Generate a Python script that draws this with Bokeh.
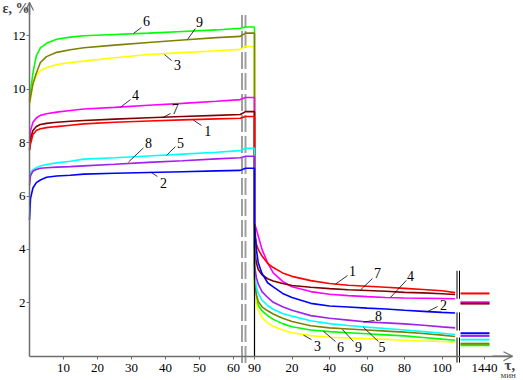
from bokeh.plotting import figure
from bokeh.models import Range1d, LinearAxis, FixedTicker, Arrow, OpenHead, Label
from bokeh.embed import file_html
from bokeh.resources import INLINE
from bokeh.core.properties import value

# ---------------- data ----------------
# loading phase, tau in minutes
tau_load = [0, 0.3, 1, 2, 3.2, 5, 8, 12, 16, 25, 35, 45, 55, 62]
load_1 = [7.7, 7.95, 8.3, 8.45, 8.52, 8.56, 8.6, 8.65, 8.7, 8.76, 8.81, 8.85, 8.89, 8.91]
load_2 = [5.1, 5.9, 6.3, 6.5, 6.6, 6.7, 6.75, 6.78, 6.82, 6.85, 6.88, 6.91, 6.94, 6.96]
load_3 = [9.4, 9.6, 10.2, 10.5, 10.7, 10.8, 10.92, 11.0, 11.05, 11.18, 11.3, 11.37, 11.44, 11.49]
load_4 = [8.0, 8.45, 8.75, 8.92, 9.02, 9.08, 9.14, 9.2, 9.26, 9.32, 9.4, 9.47, 9.55, 9.61]
load_5 = [6.5, 6.88, 6.98, 7.06, 7.12, 7.18, 7.24, 7.3, 7.38, 7.43, 7.5, 7.57, 7.64, 7.7]
load_6 = [9.6, 9.9, 10.6, 11.25, 11.55, 11.72, 11.87, 11.95, 12.0, 12.05, 12.1, 12.16, 12.22, 12.28]
load_7 = [7.75, 8.14, 8.45, 8.6, 8.68, 8.72, 8.76, 8.8, 8.83, 8.88, 8.93, 8.98, 9.02, 9.05]
load_8 = [6.4, 6.75, 6.93, 6.99, 7.04, 7.06, 7.08, 7.1, 7.13, 7.19, 7.26, 7.32, 7.39, 7.43]
load_9 = [9.5, 9.7, 10.2, 10.6, 11.0, 11.22, 11.38, 11.48, 11.55, 11.65, 11.75, 11.84, 11.93, 11.98]

# strain at the end of loading (tau = 90), series 1..9
end_load = [8.98, 7.04, 11.6, 9.69, 7.79, 12.33, 9.16, 7.49, 12.1]

# unloading phase, minutes after unloading
t_unload = [0, 1, 2, 4, 7, 10, 15, 20, 30, 40, 50, 60, 70, 80, 90, 100, 107]
unload_1 = [4.6, 4.2, 4.0, 3.75, 3.48, 3.32, 3.12, 2.99, 2.83, 2.72, 2.66, 2.62, 2.58, 2.54, 2.5, 2.45, 2.38]
unload_2 = [5.0, 4.0, 3.5, 3.1, 2.75, 2.6, 2.35, 2.2, 1.98, 1.88, 1.84, 1.8, 1.77, 1.72, 1.68, 1.64, 1.62]
unload_3 = [2.5, 1.95, 1.72, 1.45, 1.25, 1.12, 0.98, 0.88, 0.77, 0.71, 0.68, 0.66, 0.63, 0.6, 0.57, 0.55, 0.53]
unload_4 = [5.0, 4.75, 4.5, 4.0, 3.5, 3.12, 2.8, 2.6, 2.42, 2.32, 2.27, 2.23, 2.2, 2.18, 2.17, 2.16, 2.15]
unload_5 = [3.1, 2.6, 2.35, 2.1, 1.9, 1.76, 1.6, 1.5, 1.33, 1.22, 1.15, 1.09, 1.04, 0.98, 0.92, 0.86, 0.81]
unload_6 = [2.7, 2.15, 1.9, 1.7, 1.52, 1.38, 1.22, 1.1, 0.98, 0.92, 0.88, 0.84, 0.8, 0.76, 0.7, 0.64, 0.6]
unload_7 = [4.0, 3.5, 3.25, 3.05, 2.9, 2.82, 2.72, 2.65, 2.58, 2.53, 2.49, 2.46, 2.43, 2.39, 2.37, 2.34, 2.31]
unload_8 = [3.4, 2.95, 2.7, 2.42, 2.2, 2.02, 1.85, 1.72, 1.52, 1.42, 1.35, 1.28, 1.25, 1.21, 1.16, 1.1, 1.06]
unload_9 = [2.9, 2.3, 2.05, 1.85, 1.7, 1.58, 1.42, 1.3, 1.14, 1.06, 1.02, 0.98, 0.94, 0.9, 0.85, 0.79, 0.74]

# value at 1440 min, series 1..9
tau_day = [1416, 1445]
day_values = [2.35, 0.86, 0.43, 2.02, 0.62, 0.41, 1.97, 0.76, 0.47]

series_names = ["1", "2", "3", "4", "5", "6", "7", "8", "9"]
colors = ["#FF0000", "#0000FF", "#FFFF00", "#FF00FF", "#00FFFF",
          "#00FF00", "#800000", "#A020F0", "#808000"]
draw_order = [6, 3, 9, 4, 7, 1, 5, 8, 2]

# tick labels
x_ticks_load = [10, 20, 30, 40, 50, 60]
x_ticks_unload = [0, 20, 40, 60, 80, 100]
x_tick_labels_unload = ["90", "20", "40", "60", "80", "100"]
x_tick_day = 1440
y_ticks = [2, 4, 6, 8, 10, 12]

# curve labels (loading part): label, text (tau, eps), leader from, leader to
lab1_text = ["6", "9", "3", "4", "7", "1", "8", "5", "2"]
lab1_tx = [34.4, 50.0, 43.5, 31.2, 42.9, 52.4, 35.0, 44.4, 39.4]
lab1_ty = [12.57, 12.5, 10.92, 9.8, 9.24, 8.45, 7.97, 8.0, 6.5]
lab1_x0 = [32.9, 48.8, 41.8, 29.7, 41.5, 50.6, 33.5, 42.9, 37.6]
lab1_y0 = [12.31, 12.27, 11.07, 9.61, 9.09, 8.64, 7.8, 7.85, 6.73]
lab1_x1 = [30.6, 46.5, 39.7, 26.8, 39.1, 48.2, 29.1, 40.3, 35.6]
lab1_y1 = [12.09, 11.87, 11.3, 9.33, 8.93, 8.84, 7.27, 7.52, 6.9]
# curve labels (unloading part)
lab2_text = ["1", "7", "4", "2", "8", "5", "3", "6", "9"]
lab2_tx = [52.3, 65.6, 83.2, 100.8, 66.1, 68.0, 33.6, 45.9, 55.5]
lab2_ty = [3.2, 3.1, 2.99, 1.9, 1.49, 0.36, 0.4, 0.33, 0.33]
lab2_x0 = [49.6, 62.9, 81.0, 97.6, 64.0, 66.1, 30.4, 43.2, 52.8]
lab2_y0 = [3.02, 2.91, 2.84, 1.86, 1.34, 0.55, 0.62, 0.55, 0.55]
lab2_x1 = [43.2, 56.5, 72.5, 92.3, 58.1, 58.1, 26.1, 36.8, 46.9]
lab2_y1 = [2.7, 2.48, 2.2, 1.67, 1.28, 1.08, 0.79, 0.93, 1.0]

loads = [load_1, load_2, load_3, load_4, load_5, load_6, load_7, load_8, load_9]
unloads = [unload_1, unload_2, unload_3, unload_4, unload_5, unload_6, unload_7, unload_8, unload_9]

# ------------- broken-axis layout -------------
LOAD_SCALE = 6.8          # plot units per minute (loading part)
UNLOAD_START = 450        # plot position of unloading start (tau = 90)
UNLOAD_SCALE = 3.75       # plot units per minute (unloading part)
DAY_POS = 910             # plot position of tau = 1440
DAY_SCALE = 2.0
BREAK1 = (425, 432)
BREAK2 = (855, 860)
PLATEAU = (432, UNLOAD_START)
X_END = 966


def u_load(ts):
    return [LOAD_SCALE * t for t in ts]


def u_unload(ts):
    return [UNLOAD_START + UNLOAD_SCALE * t for t in ts]


def u_day(ts):
    return [DAY_POS + DAY_SCALE * (t - 1440) for t in ts]


FONT = "'Liberation Serif', 'Times New Roman', serif"

p = figure(width=523, height=380, x_range=Range1d(-58, 988), y_range=Range1d(-0.910, 13.322),
           output_backend="svg", toolbar_location=None, x_axis_type=None, y_axis_type=None,
           min_border=0)
p.min_border_left = p.min_border_right = p.min_border_top = p.min_border_bottom = 0
p.outline_line_color = None
p.background_fill_color = "white"

# break markers
for bx in BREAK1:
    p.line([bx, bx], [-0.25, 12.78], line_color="#a0a0a0", line_width=2, line_dash="17 4")

# axes
xt = [int(round(v)) for v in u_load(x_ticks_load)] + [int(round(v)) for v in u_unload(x_ticks_unload)] + [DAY_POS]
xl = [str(v) for v in x_ticks_load] + x_tick_labels_unload + [str(x_tick_day)]
xaxis = LinearAxis(fixed_location=0, ticker=FixedTicker(ticks=xt, minor_ticks=[]),
                   major_label_overrides=dict(zip(xt, xl)), bounds=(0, X_END))
yaxis = LinearAxis(fixed_location=0, ticker=FixedTicker(ticks=y_ticks, minor_ticks=[]),
                   bounds=(0, 13.25))
for ax in (xaxis, yaxis):
    ax.axis_line_color = "#6e6e6e"
    ax.axis_line_width = 1.5
    ax.major_tick_line_color = "#6e6e6e"
    ax.major_tick_in = 0
    ax.major_tick_out = 3
    ax.major_label_text_font = FONT
    ax.major_label_text_font_size = "13px"
    ax.major_label_text_color = "black"
xaxis.major_label_standoff = 5
yaxis.major_label_standoff = 1
p.add_layout(xaxis, "below")
p.add_layout(yaxis, "left")

p.add_layout(Arrow(end=OpenHead(size=9, line_color="#6e6e6e", line_width=1.2),
                   x_start=X_END - 40, y_start=0, x_end=X_END, y_end=0,
                   line_color="#6e6e6e", line_width=1.5))
p.add_layout(Arrow(end=OpenHead(size=8, line_color="#6e6e6e", line_width=1.2),
                   x_start=0, y_start=12.8, x_end=0, y_end=13.25,
                   line_color="#6e6e6e", line_width=1.5))

# curves
for n in draw_order:
    i = n - 1
    xs = u_load(tau_load) + list(PLATEAU) + u_unload(t_unload)
    ys = loads[i] + [end_load[i], end_load[i]] + unloads[i]
    p.line(xs, ys, line_color=colors[i], line_width=1.6)

for n in [3, 6, 9, 4, 7, 1, 5, 8, 2]:
    i = n - 1
    p.line(u_day(tau_day), [day_values[i], day_values[i]], line_color=colors[i], line_width=2)

# vertical line at unloading
p.line([UNLOAD_START, UNLOAD_START], [0, 4.95], line_color="black", line_width=1.2)

# second break marker
for bx in BREAK2:
    p.multi_line([[bx, bx], [bx, bx], [bx, bx]], [[3.2, 2.15], [1.64, 0.96], [0.7, -0.24]],
                 line_color="black", line_width=1)

# curve labels and leaders
p.segment(u_load(lab1_x0), lab1_y0, u_load(lab1_x1), lab1_y1, line_color="black", line_width=0.8)
p.segment(u_unload(lab2_x0), lab2_y0, u_unload(lab2_x1), lab2_y1, line_color="black", line_width=0.8)
p.text(u_load(lab1_tx), lab1_ty, text=lab1_text, text_font=value(FONT), text_font_size="14px",
       text_align="center", text_baseline="middle", text_color="black")
p.text(u_unload(lab2_tx), lab2_ty, text=lab2_text, text_font=value(FONT), text_font_size="14px",
       text_align="center", text_baseline="middle", text_color="black")

# axis titles
p.add_layout(Label(x=-54, y=13.32, text="ε, %", text_font=FONT, text_font_size="14px",
                   text_font_style="bold", text_baseline="top", text_align="left"))
p.add_layout(Label(x=950, y=-0.32, text="τ,", text_font=FONT, text_font_size="15px",
                   text_font_style="bold", text_baseline="middle", text_align="left"))
p.add_layout(Label(x=942, y=-0.9, text="мин", text_font=FONT, text_font_size="9px",
                   text_baseline="bottom", text_align="left"))

open("out.html", "w").write(file_html(p, INLINE))
